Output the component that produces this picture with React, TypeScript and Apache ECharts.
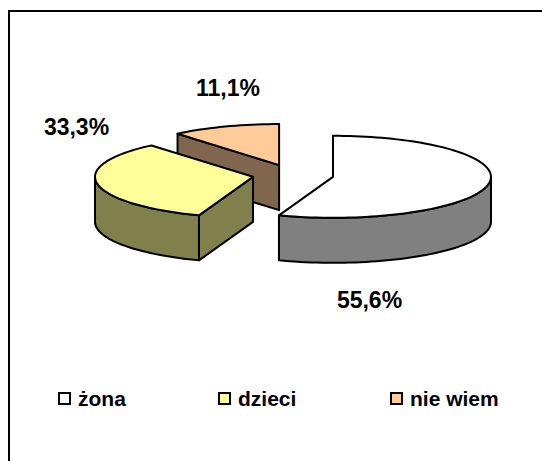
import React, { useEffect, useRef } from "react";
import * as echarts from "echarts";

// ---- data ----
const CATEGORIES = ["żona", "dzieci", "nie wiem"];
const VALUES = [5, 3, 1];

// ---- style / layout ----
const TOP_COLORS = ["#FFFFFF", "#FFFF99", "#FFCC99"];
const SIDE_COLORS = ["#808080", "#80804C", "#80664C"];
const GEO = { cx: 293, cy: 175, rx: 158, ry: 41, depth: 45, explode: 40.6 };
const LABEL_POS: number[][] = [
  [369.5, 300],
  [76.5, 126.5],
  [228, 88],
];
const LEGEND_X = [58, 218, 390];
const LEGEND_Y = 392;
const FONT = '"Liberation Sans", Arial, sans-serif';

const rad = (d: number) => (d * Math.PI) / 180;

function sliceAngles() {
  const total = VALUES.reduce((a, b) => a + b, 0);
  let cum = 0;
  return VALUES.map((v) => {
    const span = (v / total) * 360;
    const a1 = 90 - cum;
    const a0 = 90 - cum - span;
    cum += span;
    return { a0, a1, mid: (a0 + a1) / 2, pct: (v / total) * 100 };
  });
}

function makeRenderItem(i: number, angles: ReturnType<typeof sliceAngles>) {
  return () => {
    const { a0, a1, mid, pct } = angles[i];
    const k = GEO.ry / GEO.rx;
    const ax = GEO.cx + GEO.explode * Math.cos(rad(mid));
    const ay = GEO.cy - GEO.explode * k * Math.sin(rad(mid));
    const pt = (th: number, dz: number) => [
      ax + GEO.rx * Math.cos(rad(th)),
      ay - GEO.ry * Math.sin(rad(th)) + dz,
    ];
    const arc = (s: number, e: number, dz: number) => {
      const pts: number[][] = [];
      const n = Math.max(2, Math.ceil(Math.abs(e - s) / 2));
      for (let j = 0; j <= n; j++) pts.push(pt(s + ((e - s) * j) / n, dz));
      return pts;
    };
    const stroke = { stroke: "#000", lineWidth: 2, lineJoin: "round" as const };
    const children: any[] = [];
    const D = GEO.depth;
    const radialFace = (e: number) => ({
      type: "polygon",
      shape: { points: [[ax, ay], pt(e, 0), pt(e, D), [ax, ay + D]] },
      style: { fill: SIDE_COLORS[i], ...stroke },
    });
    if (Math.cos(rad(a0)) > 1e-6) children.push(radialFace(a0));
    if (Math.cos(rad(a1)) < -1e-6) children.push(radialFace(a1));
    for (let kk = -2; kk <= 1; kk++) {
      const lo = Math.max(a0, -180 + 360 * kk);
      const hi = Math.min(a1, 360 * kk);
      if (hi - lo > 1e-6) {
        const top = arc(lo, hi, 0);
        const bot = arc(hi, lo, D);
        children.push({
          type: "polygon",
          shape: { points: top.concat(bot) },
          style: { fill: SIDE_COLORS[i], ...stroke },
        });
      }
    }
    children.push({
      type: "polygon",
      shape: { points: [[ax, ay]].concat(arc(a0, a1, 0)) },
      style: { fill: TOP_COLORS[i], ...stroke },
    });
    children.push({
      type: "text",
      x: LABEL_POS[i][0],
      y: LABEL_POS[i][1],
      style: {
        text: pct.toFixed(1).replace(".", ",") + "%",
        fontFamily: FONT,
        fontWeight: "bold",
        fontSize: 23,
        fill: "#000",
        align: "center",
        verticalAlign: "middle",
      },
    });
    return { type: "group", children };
  };
}

export default function App() {
  const ref = useRef<HTMLDivElement>(null);
  useEffect(() => {
    if (!ref.current) return;
    const chart = echarts.init(ref.current, undefined, { renderer: "svg" });
    const angles = sliceAngles();
    const order = VALUES.map((_, i) => i).sort(
      (a, b) => Math.sin(rad(angles[b].mid)) - Math.sin(rad(angles[a].mid)) || a - b
    );
    const legendGraphics: any[] = [];
    CATEGORIES.forEach((name, i) => {
      legendGraphics.push({
        type: "rect",
        shape: { x: LEGEND_X[i], y: LEGEND_Y, width: 13, height: 13 },
        style: { fill: "#000" },
      });
      legendGraphics.push({
        type: "rect",
        shape: { x: LEGEND_X[i] + 2, y: LEGEND_Y + 2, width: 9, height: 9 },
        style: { fill: TOP_COLORS[i] },
      });
      legendGraphics.push({
        type: "text",
        x: LEGEND_X[i] + 20,
        y: LEGEND_Y + 6.5,
        style: {
          text: name,
          fontFamily: FONT,
          fontWeight: "bold",
          fontSize: 21,
          fill: "#000",
          align: "left",
          verticalAlign: "middle",
        },
      });
    });
    chart.setOption({
      animation: false,
      backgroundColor: "#fff",
      graphic: [
        { type: "line", shape: { x1: 8, y1: 11, x2: 542, y2: 11 }, style: { stroke: "#000", lineWidth: 2 } },
        { type: "line", shape: { x1: 9, y1: 10, x2: 9, y2: 461 }, style: { stroke: "#000", lineWidth: 2 } },
        ...legendGraphics,
      ],
      series: order.map((i) => ({
        type: "custom",
        name: CATEGORIES[i],
        coordinateSystem: "none",
        silent: true,
        itemStyle: { color: TOP_COLORS[i] },
        data: [VALUES[i]],
        renderItem: makeRenderItem(i, angles),
      })),
    });
    return () => chart.dispose();
  }, []);
  return (
    <div
      ref={ref}
      style={{ position: "fixed", left: 0, top: 0, width: 542, height: 461 }}
    />
  );
}
